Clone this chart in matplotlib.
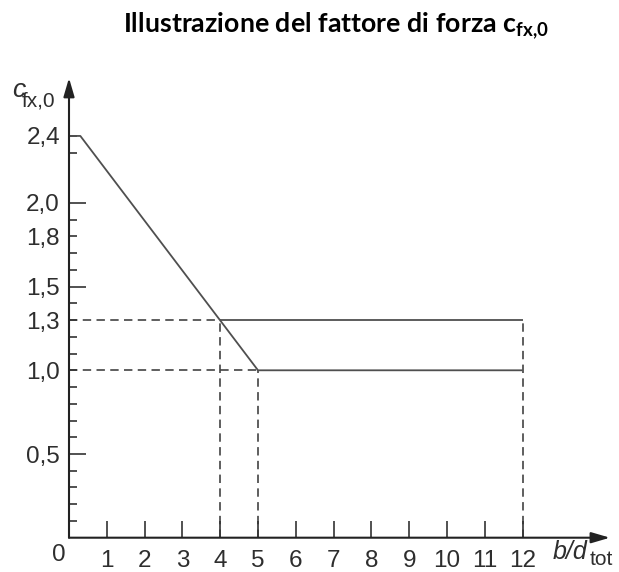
#!/usr/bin/env python3

import matplotlib
matplotlib.use("Agg")
import matplotlib.pyplot as plt

# chart data
curve_x = [0, 0.3, 5, 12]
curve_y = [2.4, 2.4, 1.0, 1.0]
upper_x = [4, 12]
upper_y = [1.3, 1.3]

x_ticks = [1, 2, 3, 4, 5, 6, 7, 8, 9, 10, 11, 12]
x_labels = ["1", "2", "3", "4", "5", "6", "7", "8", "9", "10", "11", "12"]
y_ticks = [0.5, 1.0, 1.3, 1.5, 1.8, 2.0, 2.4]
y_labels = ["0,5", "1,0", "1,3", "1,5", "1,8", "2,0", "2,4"]
y_long = [0.5, 1.5, 2.0]
y_minor = [0.1, 0.2, 0.3, 0.4, 0.6, 0.7, 0.8, 0.9, 1.1, 1.2, 1.4, 1.6, 1.7, 1.9, 2.3]

title = r"Illustrazione del fattore di forza c$_{\mathbf{fx{,}0}}$"

plt.rcParams["mathtext.fontset"] = "custom"
plt.rcParams["mathtext.rm"] = "Liberation Sans"
plt.rcParams["mathtext.it"] = "Liberation Sans:italic"
plt.rcParams["mathtext.bf"] = "Lato:bold"

ink = "#222222"
txt = "#2e2e2e"
grey = "#4f4f4f"
lab_font = "Liberation Sans"

fig = plt.figure(figsize=(6.19, 5.72), dpi=100)
ax = fig.add_axes([0, 0, 1, 1])
# map data to pixel grid of the reference (origin at 69, 537.7 px)
ax.set_xlim(-69 / 37.8, (619 - 69) / 37.8)
ax.set_ylim((537.7 - 572) / 167.4, 537.7 / 167.4)

for s in ax.spines.values():
    s.set_visible(False)
ax.spines["left"].set_position(("data", 0))
ax.spines["bottom"].set_position(("data", 0))

# axes with arrows
head = "-|>,head_length=0.75,head_width=0.22"
ax.annotate("", xy=(0, 2.746), xytext=(0, 0),
            arrowprops=dict(arrowstyle=head, mutation_scale=15, lw=1.5,
                            color=ink, shrinkA=0, shrinkB=0))
ax.annotate("", xy=(14.31, 0), xytext=(0, 0),
            arrowprops=dict(arrowstyle=head, mutation_scale=15, lw=1.5,
                            color=ink, shrinkA=0, shrinkB=0))

# ticks
ax.set_xticks(x_ticks, x_labels)
ax.set_yticks(y_ticks, y_labels)
ax.set_yticks(y_minor, minor=True)
ax.tick_params(axis="x", direction="in", length=12, width=1.1, color=ink,
               pad=8.5, labelsize=17.5, labelcolor=txt)
ax.tick_params(axis="y", which="major", direction="in", length=5.8, width=1.1,
               color=ink, pad=6.5, labelsize=17.5, labelcolor=txt)
ax.tick_params(axis="y", which="minor", direction="in", length=5.8, width=1.1,
               color=ink)
for t, v in zip(ax.yaxis.get_major_ticks(), y_ticks):
    if v in y_long:
        t.tick1line.set_markersize(12.2)
for lab in ax.get_xticklabels() + ax.get_yticklabels():
    lab.set_fontfamily(lab_font)

ax.text(-0.28, -0.035, "0", ha="center", va="top", fontsize=17.5,
        color=txt, family=lab_font)

# dashed guides
dash = dict(color="#333333", lw=1.1, linestyle=(0, (5.5, 3.5)))
ax.plot([0, upper_x[0]], [upper_y[0], upper_y[0]], **dash)
ax.plot([upper_x[0], upper_x[0]], [0, upper_y[0]], **dash)
ax.plot([0, curve_x[2]], [curve_y[2], curve_y[2]], **dash)
ax.plot([curve_x[2], curve_x[2]], [0, curve_y[2]], **dash)
ax.plot([upper_x[1], upper_x[1]], [0, upper_y[1]], **dash)

# solid lines
ax.plot(curve_x, curve_y, color=grey, lw=1.3, solid_capstyle="butt")
ax.plot(upper_x, upper_y, color=grey, lw=1.3, solid_capstyle="butt")

# axis labels (main letter italic, subscript upright)
ax.text(-1.508, 2.633, "c", ha="left", va="baseline", fontsize=19,
        style="italic", color=txt, family=lab_font)
ax.text(-1.243, 2.573, "fx,0", ha="left", va="baseline", fontsize=15,
        color=txt, family=lab_font)
ax.text(12.80, -0.127, "b/d", ha="left", va="baseline", fontsize=18,
        style="italic", color=txt, family=lab_font)
ax.text(13.78, -0.163, "tot", ha="left", va="baseline", fontsize=15,
        color=txt, family=lab_font)

fig.text(0.543, 0.942, title, ha="center", va="baseline", fontsize=19.3,
         fontweight="bold", family="Lato", color="black")

fig.savefig("out.png", dpi=100)
